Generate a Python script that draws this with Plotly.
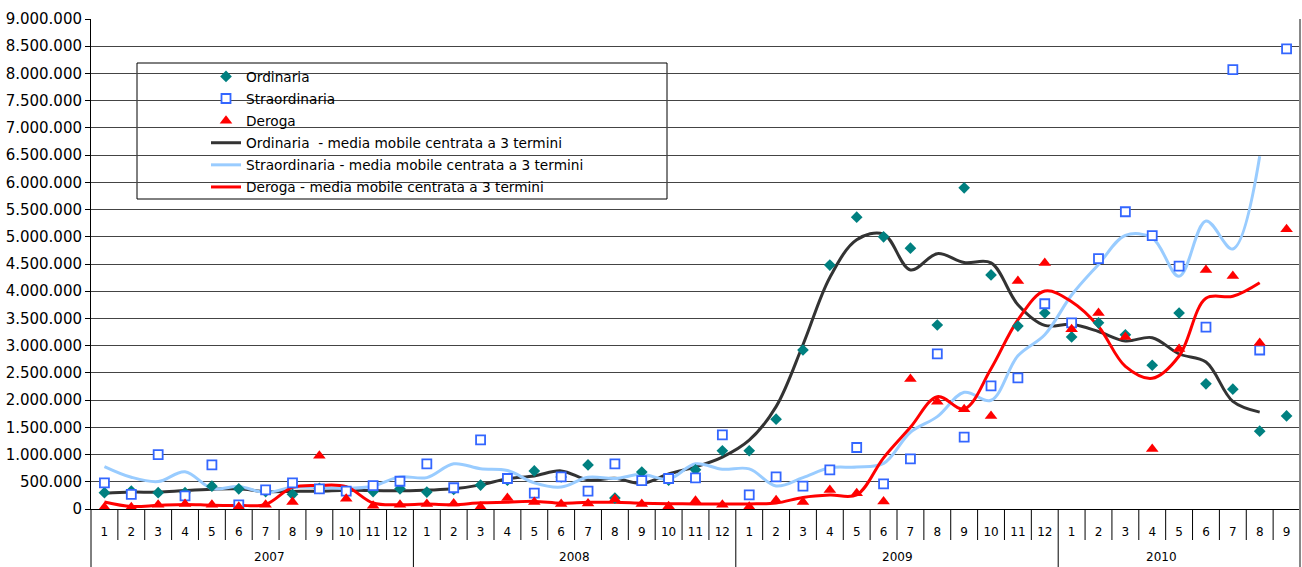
import plotly.graph_objects as go

# ---- data -------------------------------------------------------------
years = ["2007", "2008", "2009", "2010"]
months_per_year = [12, 12, 12, 9]
month_labels = [str(m) for n in months_per_year for m in range(1, n + 1)]

ordinaria = [300, 330, 300, 300, 420, 370, 320, 270, 380, 330, 320, 370,
             310, 360, 440, 530, 700, 590, 810, 200, 680, 530, 720, 1070,
             1070, 1650, 2920, 4480, 5360, 5000, 4790, 3380, 5900, 4300, 3360, 3600,
             3160, 3420, 3200, 2640, 3600, 2300, 2200, 1430, 1710]
straordinaria = [480, 270, 1000, 240, 810, 75, 350, 480, 370, 330, 430, 510,
                 830, 390, 1270, 560, 290, 590, 330, 830, 520, 560, 570, 1360,
                 260, 590, 420, 720, 1130, 460, 920, 2850, 1320, 2260, 2410, 3770,
                 3420, 4600, 5460, 5020, 4460, 3340, 8070, 2920, 8450]
deroga = [30, 30, 80, 90, 80, 40, 80, 130, 980, 190, 60, 80,
          90, 100, 40, 200, 130, 90, 100, 180, 90, 50, 150, 80,
          40, 160, 130, 350, 290, 140, 2390, 1970, 1830, 1710, 4190, 4520,
          3300, 3600, 3160, 1100, 2940, 4390, 4280, 3050, 5140]

# 3-term centred moving averages (thousands)
ordinaria_mm = [290, 310, 310, 340, 363, 370, 320, 323, 327, 343, 340, 333,
                347, 370, 443, 557, 607, 700, 533, 563, 470, 643, 773, 953,
                1263, 1880, 3017, 4253, 4947, 5050, 4390, 4690, 4527, 4520, 3753, 3373,
                3393, 3260, 3087, 3147, 2847, 2700, 1977, 1780]
straordinaria_mm = [780, 583, 503, 683, 375, 412, 302, 400, 393, 377, 423, 590,
                    577, 830, 740, 707, 480, 403, 583, 560, 637, 550, 830, 730,
                    737, 423, 577, 757, 770, 837, 1410, 1697, 2143, 1997, 2813, 3200,
                    3930, 4493, 5027, 4980, 4273, 5290, 4777, 6480]
deroga_mm = [130, 47, 67, 83, 70, 67, 83, 397, 433, 410, 110, 77,
             90, 77, 113, 123, 140, 107, 123, 123, 107, 97, 93, 90,
             93, 110, 213, 257, 260, 940, 1500, 2063, 1837, 2577, 3473, 4003,
             3807, 3353, 2620, 2400, 2810, 3870, 3907, 4157]

n = len(month_labels)
xs = list(range(n))
scale = 1000


def k(vals):
    return [v * scale for v in vals]


fig = go.Figure()

line_specs = [
    ("Ordinaria  - media mobile centrata a 3 termini", ordinaria_mm, "#333333", 4),
    ("Straordinaria - media mobile centrata a 3 termini", straordinaria_mm, "#99CCFF", 5),
    ("Deroga - media mobile centrata a 3 termini", deroga_mm, "#FF0000", 6),
]
for name, vals, col, rank in line_specs:
    fig.add_trace(go.Scatter(
        x=xs[:len(vals)], y=k(vals), name=name, mode="lines",
        line=dict(color=col, width=3, shape="spline", smoothing=1.0),
        legendrank=rank, legendgroup=name))

marker_specs = [
    ("Ordinaria", ordinaria, dict(symbol="diamond", size=9, color="#008080"), 1),
    ("Straordinaria", straordinaria,
     dict(symbol="square", size=9, color="white", line=dict(color="#3366FF", width=1.8)), 2),
    ("Deroga", deroga, dict(symbol="triangle-up", size=11, color="#FF0000"), 3),
]
for name, vals, mk, rank in marker_specs:
    fig.add_trace(go.Scatter(
        x=xs, y=k(vals), name=name, mode="markers", marker=mk,
        legendrank=rank, legendgroup=name))

# ---- layout geometry --------------------------------------------------
W, H = 1302, 567
PL, PR, PT, PB = 91, 1300, 19, 509      # plot area in page pixels
ml, mt = PL, PT
mr, mb = W - PR, H - PB
pw, ph = PR - PL, PB - PT


def px_x(p):
    return (p - PL) / pw


def px_y(p):
    return (PB - p) / ph


shapes = []
# legend box
shapes.append(dict(type="rect", xref="paper", yref="paper",
                   x0=px_x(137), x1=px_x(667), y0=px_y(199), y1=px_y(63),
                   fillcolor="white", line=dict(color="#000000", width=1),
                   layer="between"))
# category table lines
year_bounds = []
acc = 0
for m in months_per_year:
    acc += m
    year_bounds.append(acc)
for b in range(0, n):
    if b == 0 or b in year_bounds:
        y1 = px_y(H)
    else:
        y1 = px_y(540)
    shapes.append(dict(type="line", xref="paper", yref="paper",
                       x0=b / n, x1=b / n, y0=0, y1=y1,
                       line=dict(color="#000000", width=1)))
# right border
shapes.append(dict(type="line", xref="paper", yref="paper",
                   x0=1, x1=1, y0=1, y1=px_y(H),
                   line=dict(color="#888888", width=2)))

annotations = []
start = 0
for yr, m in zip(years, months_per_year):
    annotations.append(dict(text=yr, xref="paper", yref="paper",
                            x=(start + m / 2) / n, y=px_y(557),
                            showarrow=False, yanchor="middle",
                            font=dict(size=12, color="black")))
    start += m

fig.update_layout(
    width=W, height=H,
    margin=dict(l=ml, r=mr, t=mt, b=mb, autoexpand=False),
    paper_bgcolor="white", plot_bgcolor="white",
    separators=",.",
    font=dict(family="DejaVu Sans", size=13, color="black"),
    showlegend=True,
    legend=dict(x=px_x(206), y=px_y(61), xanchor="left", yanchor="top",
                bgcolor="rgba(0,0,0,0)", borderwidth=0,
                font=dict(size=13.7), tracegroupgap=1.3, itemwidth=30),
    shapes=shapes, annotations=annotations,
    xaxis=dict(range=[-0.5, n - 0.5], tickmode="array", tickvals=xs,
               ticktext=month_labels, showgrid=False, zeroline=False,
               showline=True, linecolor="black", linewidth=1, ticks="",
               tickfont=dict(size=12), ticklabelstandoff=12, automargin=False),
    yaxis=dict(range=[0, 9000000], tickmode="linear", tick0=0, dtick=500000,
               tickformat=",d", showgrid=True, gridcolor="#444444", gridwidth=1,
               zeroline=False, showline=True, linecolor="black", linewidth=1,
               ticks="outside", ticklen=5, tickcolor="black",
               tickfont=dict(size=15), automargin=False),
)

# remove the default 8px page margin so the figure fills the window exactly
fig.write_html("out.html", config={"displayModeBar": False},
               post_script="document.body.style.margin='0';")
